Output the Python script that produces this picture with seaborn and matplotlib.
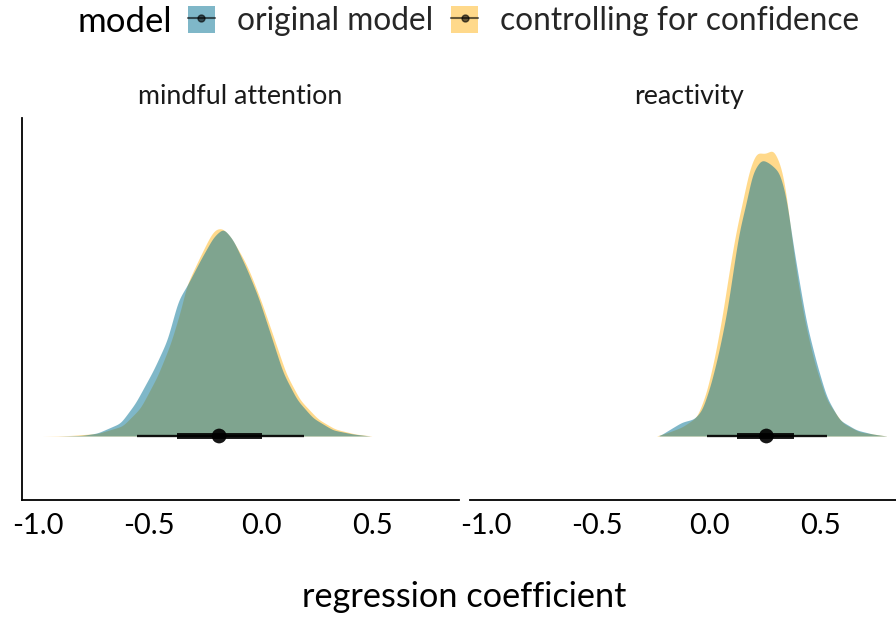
import numpy as np
import pandas as pd
import matplotlib
matplotlib.use("Agg")
import matplotlib.pyplot as plt
from matplotlib.patches import Patch
from matplotlib.lines import Line2D
from matplotlib.legend_handler import HandlerTuple
import seaborn as sns

# ---------------- data ----------------
panels = ["mindful attention", "reactivity"]
models = ["original model", "controlling for confidence"]

# density outlines (x = regression coefficient, h = relative density height)
ma_orig_x = [-0.906, -0.80, -0.732, -0.629, -0.5625, -0.482, -0.420, -0.371, -0.330, -0.272,
             -0.214, -0.170, -0.125, -0.0625, -0.013, 0.040, 0.098, 0.161, 0.232, 0.321, 0.411, 0.487]
ma_orig_h = [0, 0.6, 3, 13, 33, 66, 96, 136, 151, 176, 199, 208, 196, 166, 139, 103, 63, 36, 18, 6, 2, 0]

ma_conf_x = [-0.978, -0.853, -0.732, -0.620, -0.540, -0.464, -0.406, -0.357, -0.335, -0.281,
             -0.228, -0.205, -0.174, -0.138, -0.076, -0.049, 0.000, 0.054, 0.112, 0.174, 0.254,
             0.330, 0.420, 0.496]
ma_conf_h = [0, 0.5, 2.5, 10, 28, 60, 92, 128, 150, 176, 200, 207, 208, 200, 176, 163, 135, 100,
             62, 36, 17, 7, 2, 0]

re_orig_x = [-0.224, -0.166, -0.121, -0.067, -0.031, 0.009, 0.045, 0.081, 0.112, 0.135, 0.166,
             0.193, 0.233, 0.269, 0.314, 0.345, 0.372, 0.404, 0.435, 0.480, 0.525, 0.583, 0.659,
             0.731, 0.794]
re_orig_h = [0, 8, 14, 17, 26, 53, 86, 126, 173, 206, 233, 263, 277, 273, 264, 239, 196, 153,
             113, 73, 39, 16, 6, 2, 0]

re_conf_x = [-0.233, -0.179, -0.121, -0.054, -0.013, 0.022, 0.058, 0.090, 0.121, 0.148, 0.179,
             0.211, 0.251, 0.287, 0.323, 0.345, 0.368, 0.395, 0.426, 0.471, 0.525, 0.596, 0.673,
             0.794]
re_conf_h = [0, 4, 9, 19, 43, 76, 119, 166, 206, 233, 266, 284, 282, 287, 269, 243, 199, 156,
             116, 73, 36, 13, 4, 0]

# point intervals: median, 66% and 95% intervals
ma_median = [-0.188, -0.188]
ma_lo66 = [-0.375, -0.375]
ma_hi66 = [0.004, 0.004]
ma_lo95 = [-0.554, -0.554]
ma_hi95 = [0.192, 0.192]

re_median = [0.256, 0.256]
re_lo66 = [0.126, 0.126]
re_hi66 = [0.381, 0.381]
re_lo95 = [-0.009, -0.009]
re_hi95 = [0.525, 0.525]

x_ticks = [-1.0, -0.5, 0.0, 0.5]
tick_labels = ["-1.0", "-0.5", "0.0", "0.5"]

# ---------------- styling ----------------
sns.set_theme(style="white")
plt.rcParams["font.family"] = ["Lato", "DejaVu Sans"]

blue = "#007193"
yellow = "#FFB519"
fill_alpha = 0.5
palette = {models[0]: blue, models[1]: yellow}

dens = {
    (panels[0], models[0]): (ma_orig_x, ma_orig_h),
    (panels[0], models[1]): (ma_conf_x, ma_conf_h),
    (panels[1], models[0]): (re_orig_x, re_orig_h),
    (panels[1], models[1]): (re_conf_x, re_conf_h),
}
intervals = {
    panels[0]: (ma_median, ma_lo66, ma_hi66, ma_lo95, ma_hi95),
    panels[1]: (re_median, re_lo66, re_hi66, re_lo95, re_hi95),
}


def smooth_curve(xs, hs, sigma=0.012, step=0.002):
    xs = np.asarray(xs, float)
    hs = np.asarray(hs, float)
    grid = np.arange(xs[0] - 4 * sigma, xs[-1] + 4 * sigma, step)
    lin = np.interp(grid, xs, hs, left=0, right=0)
    k = np.arange(-4 * sigma, 4 * sigma + step, step)
    ker = np.exp(-0.5 * (k / sigma) ** 2)
    ker /= ker.sum()
    sm = np.convolve(lin, ker, mode="same")
    mask = (grid >= xs[0]) & (grid <= xs[-1])
    return grid[mask], sm[mask]


fig = plt.figure(figsize=(8.96, 6.17), dpi=100)
W, H = 896, 617
ax_w = 437 / W
ax_b = 1 - 500 / H
ax_h = (500 - 118) / H
axes = [fig.add_axes([22 / W, ax_b, ax_w, ax_h]),
        fig.add_axes([470 / W, ax_b, ax_w, ax_h])]

for ax, panel in zip(axes, panels):
    # yellow first, blue on top
    for m in [models[1], models[0]]:
        xs, hs = dens[(panel, m)]
        gx, gy = smooth_curve(xs, hs)
        ax.fill_between(gx, 0, gy, color=palette[m], alpha=fill_alpha, lw=0)
    med, lo66, hi66, lo95, hi95 = intervals[panel]
    for i, m in enumerate(models):
        ax.plot([lo95[i], hi95[i]], [0, 0], color="black", lw=1.6, alpha=0.7,
                solid_capstyle="butt")
        ax.plot([lo66[i], hi66[i]], [0, 0], color="black", lw=4.2, alpha=0.7,
                solid_capstyle="butt")
    pts = pd.DataFrame({"x": med, "y": [0, 0], "model": models})
    sns.scatterplot(data=pts, x="x", y="y", ax=ax, color="black", s=110, alpha=0.7,
                    edgecolor="none", legend=False)
    ax.set_xlim(-1.07, 0.885)
    ax.set_ylim(-64, 318)
    ax.set_xticks(x_ticks)
    ax.set_xticklabels(tick_labels)
    ax.set_yticks([])
    ax.set_xlabel("")
    ax.set_ylabel("")
    ax.tick_params(axis="x", length=0, pad=9, labelsize=21, colors="black")
    ax.text(0.5, 1.055, panel, transform=ax.transAxes, ha="center", va="center",
            fontsize=19.3, color="#1a1a1a")
    for s in ["top", "right"]:
        ax.spines[s].set_visible(False)
    ax.spines["bottom"].set_color("black")
    ax.spines["bottom"].set_linewidth(1.3)
    ax.spines["left"].set_color("black")
    ax.spines["left"].set_linewidth(1.3)
    ax.set_facecolor("none")

axes[1].spines["left"].set_visible(False)

fig.text(464 / W, 1 - 597 / H, "regression coefficient", ha="center", va="center",
         fontsize=24.7, color="black")

# legend
fig.text(77 / W, 1 - 22 / H, "model", ha="left", va="center", fontsize=25, color="black")
handles = []
for m in models:
    handles.append((Patch(facecolor=palette[m], alpha=fill_alpha, edgecolor="none"),
                    Line2D([], [], color="black", alpha=0.6, lw=1.5, marker="o",
                           markersize=5)))
leg = fig.legend(handles, models, loc="center left", bbox_to_anchor=(188 / W, 1 - 21 / H),
                 ncol=2, frameon=False, fontsize=22.8, handlelength=0.85, handleheight=0.95,
                 handletextpad=0.7, columnspacing=0.57, borderpad=0, borderaxespad=0,
                 handler_map={tuple: HandlerTuple(ndivide=1)})

fig.savefig("out.png", dpi=100, facecolor="white")
